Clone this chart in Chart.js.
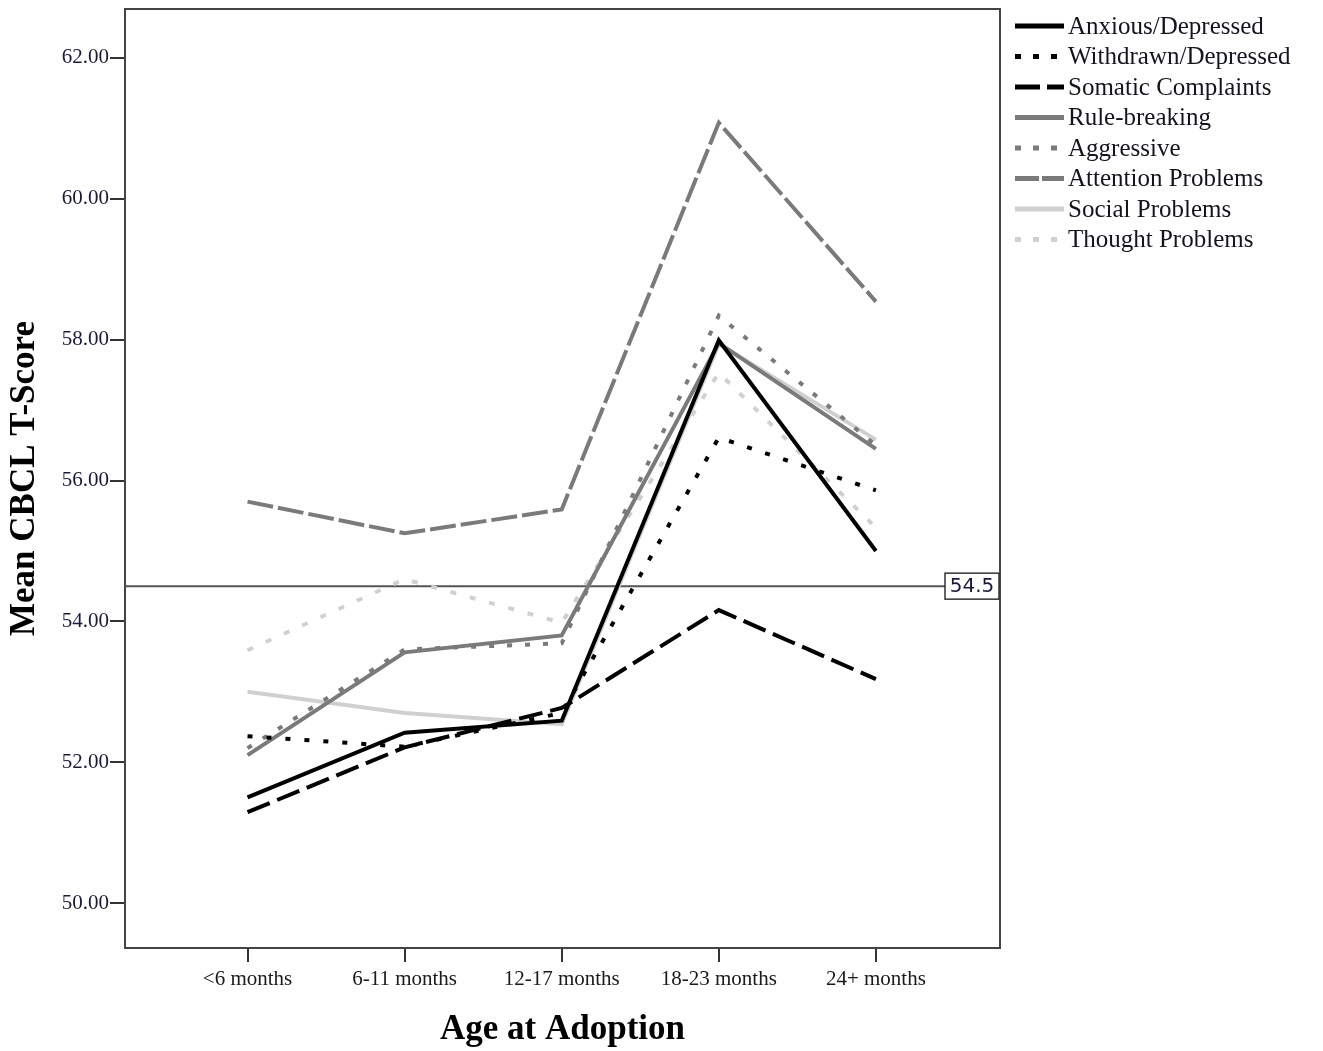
<!DOCTYPE html>
<html>
<head>
<meta charset="utf-8">
<script src="https://cdn.jsdelivr.net/npm/chart.js@4"></script>
<style>
  html, body { margin: 0; padding: 0; background: #fff; }
  #wrap { width: 1323px; height: 1051px; position: relative; }
</style>
</head>
<body>
<div id="wrap"><canvas id="cbcl"></canvas></div>
<script>
const CATEGORIES = ['<6 months', '6-11 months', '12-17 months', '18-23 months', '24+ months'];
const Y_TICKS = [50, 52, 54, 56, 58, 60, 62];
const REF_LINE = 54.5;

const anxious      = [51.50, 52.42, 52.59, 57.99, 55.00];
const withdrawn    = [52.37, 52.22, 52.70, 56.61, 55.86];
const somatic      = [51.29, 52.21, 52.77, 54.16, 53.18];
const ruleBreaking = [52.10, 53.56, 53.80, 57.95, 56.45];
const aggressive   = [52.20, 53.60, 53.69, 58.34, 56.50];
const attention    = [55.70, 55.25, 55.59, 61.08, 58.54];
const social       = [53.00, 52.70, 52.54, 57.94, 56.58];
const thought      = [53.59, 54.60, 53.98, 57.53, 55.33];

const SERIES_NAMES = ['Anxious/Depressed', 'Withdrawn/Depressed', 'Somatic Complaints', 'Rule-breaking',
                      'Aggressive', 'Attention Problems', 'Social Problems', 'Thought Problems'];

const BLACK = '#000000', GRAY = '#7a7a7a', LIGHT = '#d0d0d0';

function series(name, values, color, dash, legendDash) {
    return {
        label: name,
        data: values.map((v, i) => ({ x: i, y: v })),
        borderColor: color,
        borderWidth: 4,
        borderDash: dash,
        legendDash: legendDash,
        borderCapStyle: 'butt',
        pointRadius: 0,
        tension: 0,
        fill: false
    };
}

const datasets = [
    series(SERIES_NAMES[0], anxious, BLACK, [], []),
    series(SERIES_NAMES[1], withdrawn, BLACK, [5, 14], [6, 12]),
    series(SERIES_NAMES[2], somatic, BLACK, [24, 8], [25, 7]),
    series(SERIES_NAMES[3], ruleBreaking, GRAY, [], []),
    series(SERIES_NAMES[4], aggressive, GRAY, [5, 13], [6, 12]),
    series(SERIES_NAMES[5], attention, GRAY, [26, 5], [24, 3]),
    series(SERIES_NAMES[6], social, LIGHT, [], []),
    series(SERIES_NAMES[7], thought, LIGHT, [6, 14], [6, 12])
];

// frame, reference line and its tag, legend
const extras = {
    id: 'extras',
    beforeDatasetsDraw(chart) {
        const ctx = chart.ctx, a = chart.chartArea;
        const y = chart.scales.y.getPixelForValue(REF_LINE);
        ctx.save();
        ctx.strokeStyle = '#555';
        ctx.lineWidth = 2;
        ctx.beginPath();
        ctx.moveTo(a.left, y);
        ctx.lineTo(a.right, y);
        ctx.stroke();
        ctx.restore();
    },
    afterDraw(chart) {
        const ctx = chart.ctx, a = chart.chartArea;
        ctx.save();
        ctx.strokeStyle = '#444';
        ctx.lineWidth = 2;
        ctx.strokeRect(a.left, a.top, a.right - a.left, a.bottom - a.top);

        // 54.5 tag
        const y = chart.scales.y.getPixelForValue(REF_LINE);
        ctx.fillStyle = '#fff';
        ctx.fillRect(a.right - 55, y - 13, 54, 26);
        ctx.strokeStyle = '#333';
        ctx.lineWidth = 1.5;
        ctx.strokeRect(a.right - 55, y - 13, 54, 26);
        ctx.fillStyle = '#1a1a40';
        ctx.font = '20px "DejaVu Sans", sans-serif';
        ctx.textAlign = 'center';
        ctx.textBaseline = 'middle';
        ctx.fillText(String(REF_LINE), a.right - 28, y + 1);

        // legend
        ctx.font = '25px "Liberation Serif", serif';
        ctx.textAlign = 'left';
        chart.data.datasets.forEach((ds, i) => {
            const ly = 26 + i * 30.5;
            ctx.strokeStyle = ds.borderColor;
            ctx.lineWidth = 5;
            ctx.setLineDash(ds.legendDash);
            ctx.beginPath();
            ctx.moveTo(1015, ly);
            ctx.lineTo(1064, ly);
            ctx.stroke();
            ctx.setLineDash([]);
            ctx.fillStyle = '#141420';
            ctx.fillText(ds.label, 1068, ly + 1);
        });
        ctx.restore();
    }
};

new Chart(document.getElementById('cbcl').getContext('2d'), {
    type: 'line',
    data: { datasets: datasets },
    options: {
        responsive: true,
        maintainAspectRatio: false,
        animation: false,
        layout: { padding: { left: 0, right: 323, top: 9, bottom: 0 } },
        plugins: {
            legend: { display: false },
            tooltip: { enabled: false }
        },
        scales: {
            x: {
                type: 'linear',
                min: -0.78,
                max: 4.79,
                afterBuildTicks: scale => { scale.ticks = CATEGORIES.map((c, i) => ({ value: i })); },
                afterFit: scale => { scale.height = 103; scale.paddingLeft = 0; scale.paddingRight = 0; },
                grid: { display: true, drawOnChartArea: false, drawTicks: true, tickLength: 14, color: '#333', lineWidth: 2 },
                border: { display: true, color: '#444', width: 2 },
                ticks: {
                    autoSkip: false,
                    maxRotation: 0,
                    padding: 5,
                    color: '#1a1a1a',
                    font: { family: '"Liberation Serif", serif', size: 21 },
                    callback: v => CATEGORIES[v]
                },
                title: {
                    display: true,
                    text: 'Age at Adoption',
                    color: '#000',
                    padding: { top: 0, bottom: 0 },
                    font: { family: '"Liberation Serif", serif', size: 35, weight: 'bold' }
                }
            },
            y: {
                type: 'linear',
                min: 49.362,
                max: 62.695,
                afterBuildTicks: scale => { scale.ticks = Y_TICKS.map(v => ({ value: v })); },
                afterFit: scale => { scale.width = 125; scale.paddingTop = 0; scale.paddingBottom = 0; },
                grid: { display: true, drawOnChartArea: false, drawTicks: true, tickLength: 15, color: '#333', lineWidth: 2 },
                border: { display: true, color: '#444', width: 2 },
                ticks: {
                    padding: 1,
                    color: '#1a1a40',
                    font: { family: '"Liberation Serif", serif', size: 21 },
                    callback: v => Number(v).toFixed(2)
                },
                title: {
                    display: true,
                    text: 'Mean CBCL T-Score',
                    color: '#000',
                    padding: { top: 4, bottom: 0 },
                    font: { family: '"Liberation Serif", serif', size: 35, weight: 'bold' }
                }
            }
        }
    },
    plugins: [extras]
});
</script>
</body>
</html>
